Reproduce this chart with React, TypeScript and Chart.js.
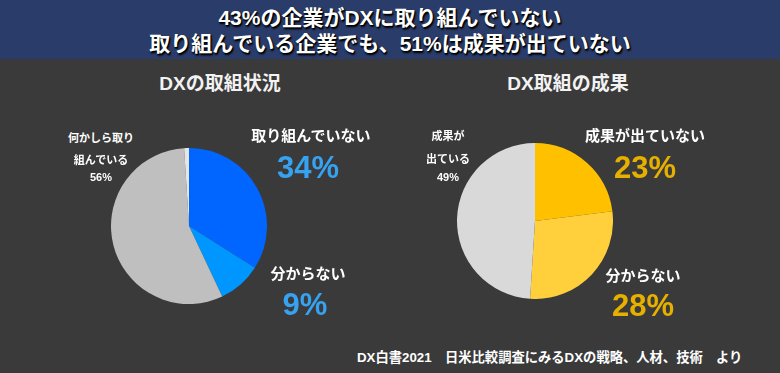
import React, { useEffect, useRef } from "react";
import { Chart, registerables } from "chart.js";

Chart.register(...registerables);

const titleLines = ["43%の企業がDXに取り組んでいない", "取り組んでいる企業でも、51%は成果が出ていない"];
const footerText = "DX白書2021　日米比較調査にみるDXの戦略、人材、技術　より";

const leftTitle = "DXの取組状況";
const leftCategories = ["取り組んでいない", "分からない", "何かしら取り組んでいる", "その他"];
const leftValues = [34, 9, 56, 1];
const leftColors = ["#0066ff", "#0096ff", "#bfbfbf", "#e6e6e6"];

const rightTitle = "DX取組の成果";
const rightCategories = ["成果が出ていない", "分からない", "成果が出ている"];
const rightValues = [23, 28, 49];
const rightColors = ["#ffc000", "#ffd03c", "#d9d9d9"];

const FONT = "'Liberation Sans', 'Noto Sans CJK JP', sans-serif";

function Pie({ labels, values, colors, left, top, size }: { labels: string[]; values: number[]; colors: string[]; left: number; top: number; size: number }) {
  const ref = useRef<HTMLCanvasElement>(null);
  useEffect(() => {
    if (!ref.current) return;
    const chart = new Chart(ref.current, {
      type: "pie",
      data: {
        labels,
        datasets: [{ data: values, backgroundColor: colors, borderWidth: 0 }],
      },
      options: {
        responsive: false,
        animation: false,
        layout: { padding: 0 },
        plugins: { legend: { display: false }, tooltip: { enabled: false } },
      },
    });
    return () => chart.destroy();
  }, []);
  return <canvas ref={ref} width={size} height={size} style={{ position: "absolute", left, top, width: size, height: size }} />;
}

function Label({ text, cx, cy, size, color }: { text: string; cx: number; cy: number; size: number; color: string }) {
  const h = Math.round(size * 1.15);
  return (
    <div
      style={{
        position: "absolute",
        left: cx - 150,
        width: 300,
        top: cy - h / 2,
        height: h,
        lineHeight: h + "px",
        textAlign: "center",
        fontSize: size,
        fontWeight: 700,
        color,
        whiteSpace: "nowrap",
        fontFamily: FONT,
      }}
    >
      {text}
    </div>
  );
}

export default function App() {
  const R = 78;
  const S = R * 2;
  return (
    <div style={{ position: "absolute", left: 0, top: 0, width: 780, height: 373, background: "#3a3a3a", overflow: "hidden", fontFamily: FONT }}>
      <div style={{ position: "absolute", left: 0, top: 0, width: 780, height: 59, background: "#2a3c69" }} />
      {titleLines.map((t, i) => (
        <div
          key={i}
          style={{
            position: "absolute",
            left: 0,
            width: 780,
            top: (i === 0 ? 18 : 44) - 12,
            height: 24,
            lineHeight: "24px",
            textAlign: "center",
            fontSize: 21,
            fontWeight: 700,
            color: "#ffffff",
            textShadow: "1px 1px 1px #000, 1px 2px 2px #000",
            fontFamily: FONT,
          }}
        >
          {t}
        </div>
      ))}
      <Label text={leftTitle} cx={220} cy={84} size={19} color="#f2f2f2" />
      <Label text={rightTitle} cx={568} cy={84} size={19} color="#f2f2f2" />

      <Pie labels={leftCategories} values={leftValues} colors={leftColors} left={189 - R} top={226 - R} size={S} />
      <Pie labels={rightCategories} values={rightValues} colors={rightColors} left={535 - R} top={221 - R} size={S} />

      <Label text="何かしら取り" cx={101} cy={138} size={11} color="#ffffff" />
      <Label text="組んでいる" cx={101} cy={160} size={11} color="#ffffff" />
      <Label text={leftValues[2] + "%"} cx={101} cy={177} size={11} color="#ffffff" />
      <Label text={leftCategories[0]} cx={311} cy={135} size={15} color="#ffffff" />
      <Label text={leftValues[0] + "%"} cx={308} cy={168} size={31} color="#36a2f0" />
      <Label text={leftCategories[1]} cx={308} cy={273} size={15} color="#ffffff" />
      <Label text={leftValues[1] + "%"} cx={305} cy={305} size={31} color="#36a2f0" />

      <Label text="成果が" cx={448} cy={136} size={11} color="#ffffff" />
      <Label text="出ている" cx={448} cy={159} size={11} color="#ffffff" />
      <Label text={rightValues[2] + "%"} cx={448} cy={177} size={11} color="#ffffff" />
      <Label text={rightCategories[0]} cx={645} cy={135} size={15} color="#ffffff" />
      <Label text={rightValues[0] + "%"} cx={645} cy={168} size={31} color="#e6b000" />
      <Label text={rightCategories[1]} cx={643} cy={275} size={15} color="#ffffff" />
      <Label text={rightValues[1] + "%"} cx={643} cy={306} size={31} color="#e6b000" />

      <div
        style={{
          position: "absolute",
          left: 357,
          top: 358 - 9,
          height: 18,
          lineHeight: "18px",
          fontSize: 13.3,
          fontWeight: 700,
          color: "#ffffff",
          whiteSpace: "nowrap",
          fontFamily: FONT,
        }}
      >
        {footerText}
      </div>
    </div>
  );
}
